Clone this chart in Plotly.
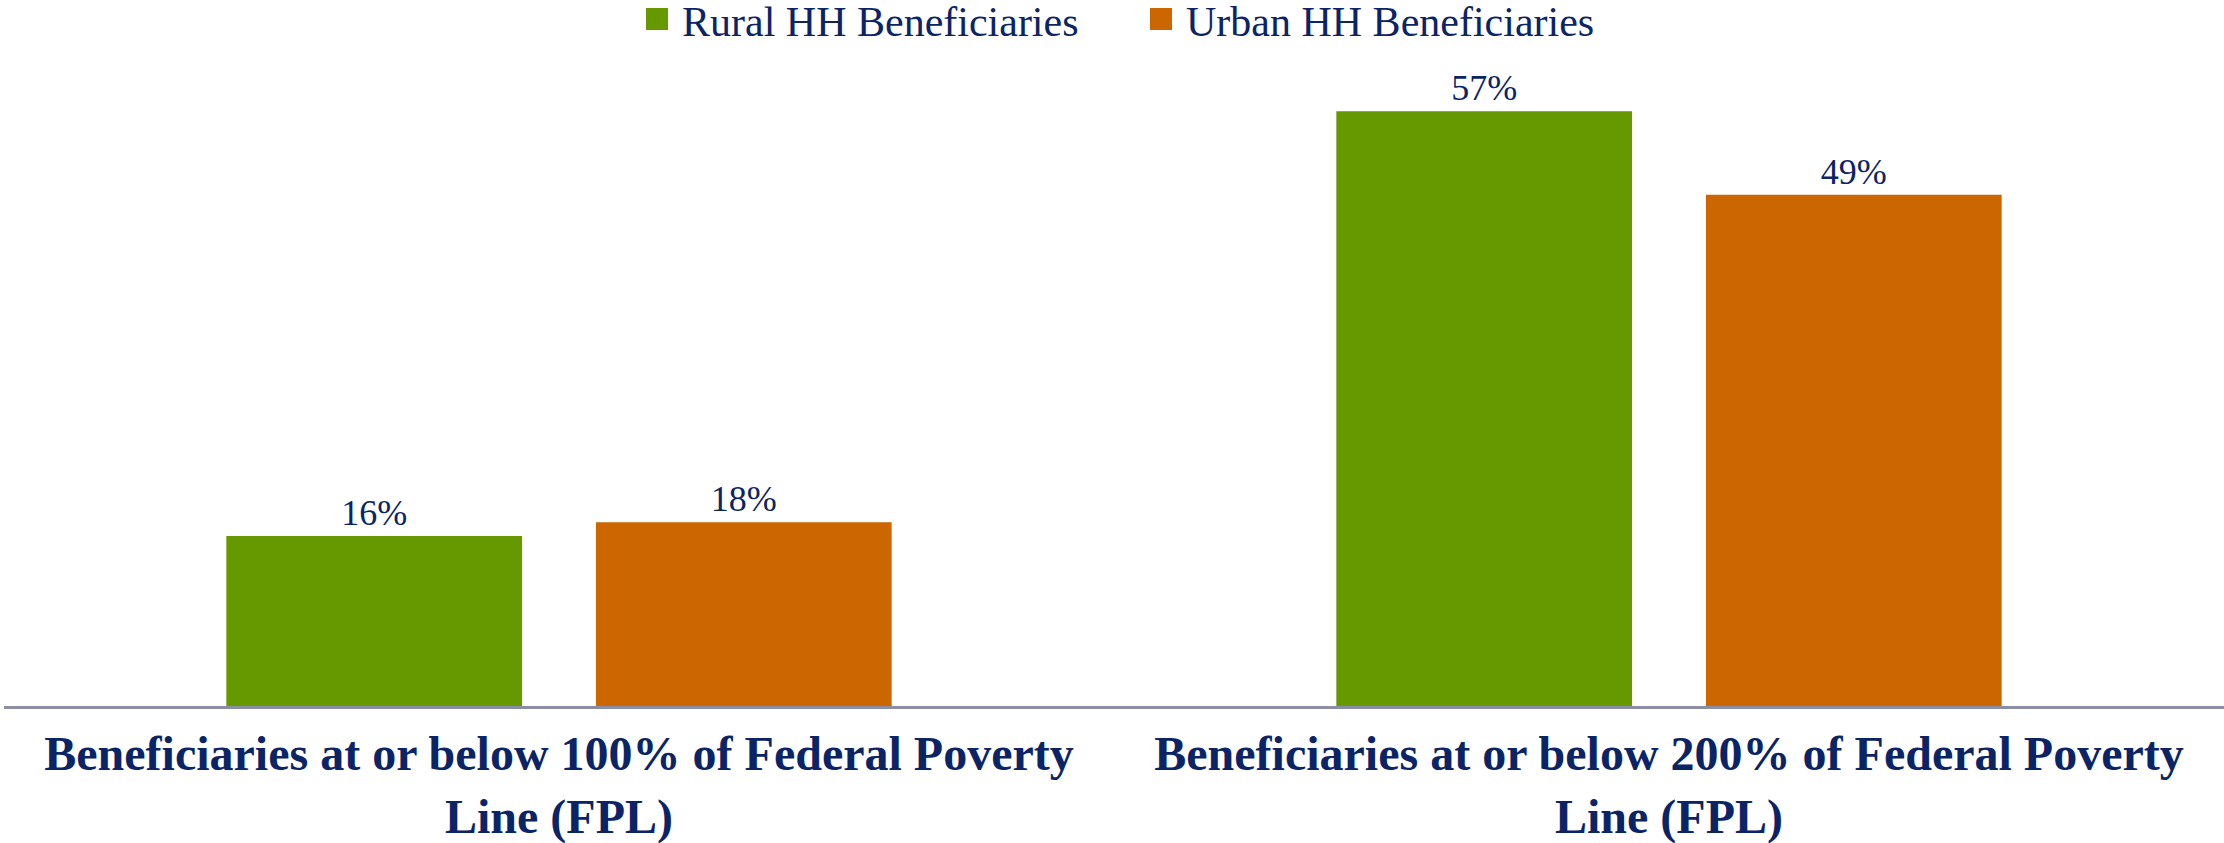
import plotly.graph_objects as go

# ---- data ----
categories = [
    "Beneficiaries at or below 100% of Federal Poverty<br>Line (FPL)",
    "Beneficiaries at or below 200% of Federal Poverty<br>Line (FPL)",
]
series_names = ["Rural HH Beneficiaries", "Urban HH Beneficiaries"]
rural_values = [16.3, 57.0]
urban_values = [17.6, 49.0]
series_colors = ["#669900", "#CC6600"]

# ---- layout constants ----
W, H = 2224, 843
ML, MR, MT, MB = 4, 0, 80, 137
TEXT = "#0b2466"
FONT = "Times New Roman, Liberation Serif, serif"
PW, PH = W - ML - MR, H - MT - MB


def px_x(px):
    return (px - ML) / PW


def px_y(py):
    return (H - MB - py) / PH


fig = go.Figure()
for name, vals, col in zip(series_names, [rural_values, urban_values], series_colors):
    fig.add_trace(go.Bar(
        x=categories, y=vals, name=name,
        marker=dict(color=col, line=dict(width=0)),
        texttemplate="%{y:.0f}%", textposition="outside",
        textfont=dict(family=FONT, size=36, color=TEXT),
        cliponaxis=False, showlegend=False,
    ))

# manual legend (larger swatches than plotly's fixed legend symbols)
legend_items = [(646, 680), (1150, 1184)]
shapes, annotations = [], []
for (sx, tx), name, col in zip(legend_items, series_names, series_colors):
    shapes.append(dict(type="rect", xref="paper", yref="paper",
                       x0=px_x(sx), x1=px_x(sx + 22), y0=px_y(30), y1=px_y(8),
                       fillcolor=col, line=dict(width=0)))
    annotations.append(dict(xref="paper", yref="paper", x=px_x(tx), y=px_y(-3),
                            xanchor="left", yanchor="top", showarrow=False,
                            text=name, font=dict(family=FONT, size=42, color=TEXT)))

fig.update_layout(
    width=W, height=H, autosize=False,
    margin=dict(l=ML, r=MR, t=MT, b=MB, pad=0),
    paper_bgcolor="white", plot_bgcolor="white",
    barmode="group", bargap=0.334, bargroupgap=0.2,
    shapes=shapes, annotations=annotations,
    xaxis=dict(showline=True, linecolor="#8c8fa3", linewidth=2.5, ticks="",
               showgrid=False, zeroline=False, ticklabelstandoff=4,
               automargin=False,
               tickfont=dict(family=FONT, size=48, color=TEXT, weight="bold")),
    yaxis=dict(range=[0, 60], visible=False, showgrid=False, zeroline=False,
               automargin=False),
)

fig.write_html("out.html", post_script="document.body.style.margin='0';",
               config={"displayModeBar": False})
